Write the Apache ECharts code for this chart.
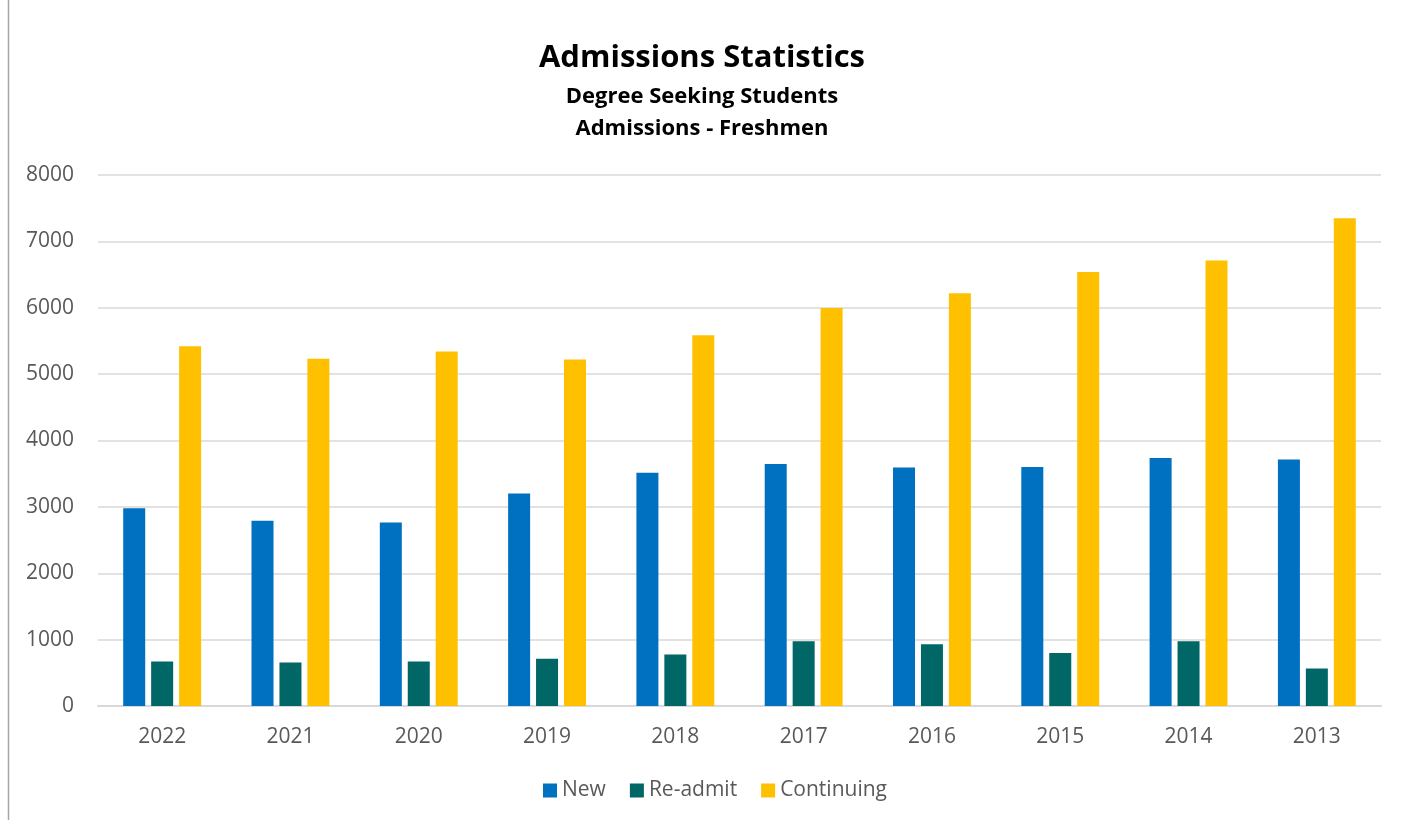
<!DOCTYPE html>
<html>
<head>
<meta charset="utf-8">
<script src="https://cdn.jsdelivr.net/npm/echarts@6/dist/echarts.min.js"></script>
<style>html,body{margin:0;padding:0;background:#fff}#c{width:1404px;height:825px}</style>
</head>
<body>
<div id="c"></div>
<script>
const categories = ['2022','2021','2020','2019','2018','2017','2016','2015','2014','2013'];
const newVals = [2980, 2790, 2765, 3200, 3515, 3645, 3595, 3600, 3735, 3715];
const readmitVals = [670, 655, 670, 710, 775, 975, 930, 800, 975, 565];
const continuingVals = [5420, 5230, 5340, 5220, 5585, 5995, 6220, 6540, 6710, 7350];
const yTicks = [0, 1000, 2000, 3000, 4000, 5000, 6000, 7000, 8000];

const FONT = 'Open Sans';
const chart = echarts.init(document.getElementById('c'));
chart.setOption({
  animation: false,
  textStyle: { fontFamily: FONT },
  title: [
    { text: 'Admissions Statistics', left: 'center', top: 38,
      textStyle: { fontFamily: FONT, fontWeight: 'bold', fontSize: 31, color: '#000' } },
    { text: 'Degree Seeking Students\nAdmissions - Freshmen', left: 'center', top: 76,
      textStyle: { fontFamily: FONT, fontWeight: 'bold', fontSize: 22, color: '#000', lineHeight: 32 } }
  ],
  legend: {
    bottom: 19, left: 538, itemWidth: 14, itemHeight: 14, itemGap: 24,
    icon: 'rect',
    textStyle: { fontFamily: FONT, fontSize: 21, color: '#595959' },
    data: ['New', 'Re-admit', 'Continuing']
  },
  grid: { left: 98, right: 23, top: 175, bottom: 119, containLabel: false },
  xAxis: {
    type: 'category', data: categories,
    axisLine: { lineStyle: { color: '#d9d9d9', width: 2 } },
    axisTick: { show: false },
    axisLabel: { fontFamily: FONT, fontSize: 21, color: '#595959', margin: 21 }
  },
  yAxis: {
    type: 'value', min: yTicks[0], max: yTicks[yTicks.length - 1], interval: 1000,
    axisLine: { show: false }, axisTick: { show: false },
    splitLine: { lineStyle: { color: '#d9d9d9', width: 1.5 } },
    axisLabel: { fontFamily: FONT, fontSize: 21, color: '#595959', margin: 24,
      formatter: v => String(v) }
  },
  series: [
    { name: 'New', type: 'bar', data: newVals, barWidth: 22, barGap: '27%',
      itemStyle: { color: '#0070C0' } },
    { name: 'Re-admit', type: 'bar', data: readmitVals, barWidth: 22, barGap: '27%',
      itemStyle: { color: '#006666' } },
    { name: 'Continuing', type: 'bar', data: continuingVals, barWidth: 22, barGap: '27%',
      itemStyle: { color: '#FFC000' } }
  ],
  graphic: [
    { type: 'line', shape: { x1: 8.5, y1: 0, x2: 8.5, y2: 820 },
      style: { stroke: '#a6a6a6', lineWidth: 1.5 } }
  ]
});
</script>
</body>
</html>
